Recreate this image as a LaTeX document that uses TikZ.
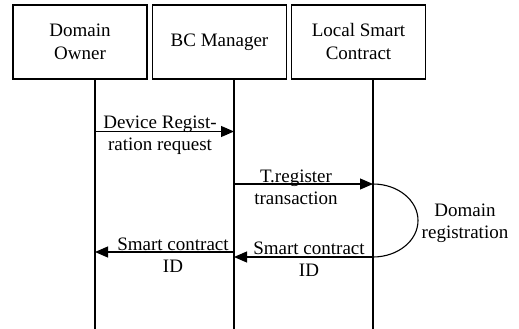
\documentclass[tikz,border=0pt]{standalone}
\usepackage{fontspec}
\setmainfont{Liberation Serif}
\newfontfamily\diagface{Liberation Serif}
\usetikzlibrary{arrows.meta}
\begin{document}
\begin{tikzpicture}[x=1pt,y=-1pt,
  actor/.style={draw,line width=1.1pt,minimum width=134pt,minimum height=74pt,
    align=center,inner sep=0pt,font=\diagface\fontsize{19}{23}\selectfont},
  lifeline/.style={line width=1.1pt},
  msg/.style={line width=1.1pt,-{Triangle[length=13pt,width=11pt]}},
  lbl/.style={align=center,inner sep=0pt,font=\diagface\fontsize{19}{22}\selectfont}]
\useasboundingbox (0,0) rectangle (519,329);
% participants
\node[actor] (do)  at (80,42)    {Domain\\Owner};
\node[actor] (bc)  at (219.5,42) {BC Manager};
\node[actor] (lsc) at (358.5,42) {Local Smart\\Contract};
% lifeline ends
\coordinate (doEnd)  at (95,329);
\coordinate (bcEnd)  at (234,329);
\coordinate (lscEnd) at (373,329);
\coordinate (doTop)  at (95,79);
\coordinate (bcTop)  at (234,79);
\coordinate (lscTop) at (373,79);
\draw[lifeline] (doTop) -- (doEnd);
\draw[lifeline] (bcTop) -- (bcEnd);
\draw[lifeline] (lscTop) -- (lscEnd);
% message end points on the lifelines
\coordinate (m1a) at (95,131.5);  \coordinate (m1b) at (234,131.5);
\coordinate (m2a) at (234,184);   \coordinate (m2b) at (373,184);
\coordinate (m3a) at (373,257);   \coordinate (m3b) at (234,257);
\coordinate (m4a) at (234,252);   \coordinate (m4b) at (95,252);
% messages
\draw[msg] (m1a) -- (m1b);
\draw[msg] (m2a) -- (m2b);
\draw[msg] (m3a) -- (m3b);
\draw[msg] (m4a) -- (m4b);
% self activity on the local contract
\draw[lifeline] (m2b) arc[start angle=-90,end angle=90,x radius=45,y radius=36.5];
% labels
\node[lbl] (l1) at (160,135) {Device Regist-\\ration request};
\node[lbl] (l2) at (296,187) {T.register\\transaction};
\node[lbl] (l3) at (309,259) {Smart contract\\ID};
\node[lbl] (l4) at (173,255) {Smart contract\\ID};
\node[lbl] (l5) at (465,223) {Domain\\registration};
\end{tikzpicture}
\end{document}
